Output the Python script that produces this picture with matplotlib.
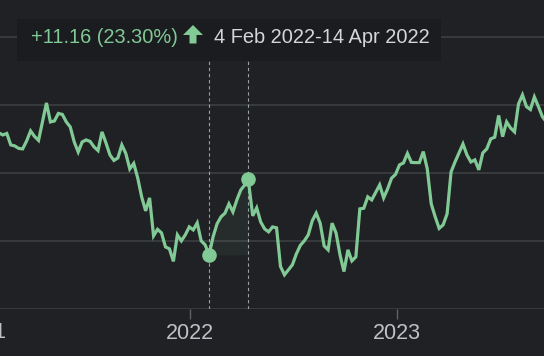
import numpy as np
import pandas as pd
import matplotlib
matplotlib.use("Agg")
import matplotlib.pyplot as plt
from matplotlib.patches import FancyBboxPatch, Polygon

# weekly closes
start_date = "2021-01-29"
prices = [65.84, 65.54, 65.76, 64.07, 63.93, 63.56, 63.49, 64.66, 66.13, 65.32,
          64.74, 67.46, 70.25, 67.46, 67.60, 68.71, 68.56, 67.46, 66.72, 64.51,
          63.04, 64.51, 64.81, 64.59, 63.78, 63.24, 65.99, 64.37, 62.60, 61.79,
          62.16, 64.07, 62.82, 60.54, 61.35, 59.22, 56.43, 54.37, 56.28, 50.69,
          51.65, 51.13, 49.07, 48.78, 46.94, 50.84, 49.96, 50.84, 52.01, 51.57,
          52.60, 49.96, 49.37, 47.90, 50.54, 52.46, 53.49, 54.03, 55.40, 54.22,
          55.99, 57.46, 58.19, 59.06, 53.63, 54.81, 52.75, 51.72, 51.28, 52.01,
          51.87, 46.18, 44.96, 45.69, 46.43, 48.04, 49.29, 49.96, 50.84, 52.90,
          54.03, 52.56, 49.22, 48.63, 52.56, 51.13, 47.90, 45.44, 48.63, 47.01,
          47.60, 54.66, 54.76, 56.43, 55.99, 57.09, 58.19, 56.28, 57.60, 59.18,
          59.74, 61.13, 61.43, 62.82, 61.50, 61.47, 61.47, 63.09, 60.54, 55.40,
          53.49, 51.79, 52.31, 53.93, 60.10, 61.57, 62.90, 64.22, 62.60, 61.57,
          61.87, 60.40, 62.90, 63.49, 64.96, 65.21, 68.41, 65.29, 67.46, 66.57,
          65.99, 70.10, 71.43, 69.71, 69.29, 71.13, 69.74, 68.26, 67.46]
sel_start = "2022-02-04"
sel_end = "2022-04-14"
change_text = "+11.16 (23.30%)"
range_text = "4 Feb 2022-14 Apr 2022"
year_ticks = ["2021-01-01", "2022-01-01", "2023-01-01"]
year_labels = ["2021", "2022", "2023"]

dates = pd.date_range(start_date, periods=len(prices), freq="7D")
dates = dates.where(dates != pd.Timestamp("2022-04-15"), pd.Timestamp(sel_end))
s = pd.Series(prices, index=dates)

bg = "#202124"
green = "#81c995"
grid = "#3c4043"
tick_col = "#bdc1c6"

plt.rcParams["font.family"] = ["Liberation Sans", "DejaVu Sans"]

fig = plt.figure(figsize=(5.44, 3.56), dpi=100, facecolor=bg)
ax = fig.add_axes([0, 0.1334, 1, 0.8666])
ax.set_facecolor(bg)

ax.plot(s.index, s.values, color=green, lw=2.3, solid_joinstyle="miter", zorder=3)

seg = s[sel_start:sel_end]
ax.fill_between(seg.index, seg.values, seg.iloc[0], color=green, alpha=0.07, lw=0, zorder=2)
ax.plot([seg.index[0], seg.index[-1]], [seg.iloc[0], seg.iloc[-1]], "o",
        color=green, ms=9.5, zorder=4)
for d in [seg.index[0], seg.index[-1]]:
    ax.plot([d, d], [40, 77.8], color="#9aa0a6", lw=0.8, ls=(0, (3, 2.5)), zorder=1)

ax.set_xlim(pd.Timestamp("2021-01-31"), pd.Timestamp("2023-09-18"))
ax.set_ylim(40, 85.4)
ax.set_yticks([40, 50, 60, 70, 80])
ax.yaxis.grid(True, color=grid, lw=1.2)
ax.set_axisbelow(True)
ax.tick_params(axis="y", left=False, labelleft=False)
for sp in ax.spines.values():
    sp.set_visible(False)

ax.set_xticks(pd.to_datetime(year_ticks[1:]))
ax.set_xticklabels(year_labels[1:])
ax.tick_params(axis="x", length=7.5, width=1, color="#5f6368", labelcolor=tick_col,
               labelsize=15.5, pad=3)
ax.text(pd.Timestamp(year_ticks[0]), -0.044, year_labels[0],
        transform=ax.get_xaxis_transform(), ha="center", va="top",
        fontsize=15.5, color=tick_col, clip_on=False)

# tooltip
W, H = 544, 356
box = FancyBboxPatch((17 / W, 1 - 61 / H), 424 / W, 42 / H,
                     boxstyle="square,pad=0", transform=fig.transFigure,
                     facecolor="#1b1c1f", edgecolor="none", zorder=5)
fig.patches.append(box)
fig.text(31 / W, 1 - 37.5 / H, change_text, color=green, fontsize=14.4,
         va="center", ha="left", zorder=6)
arrow_px = [(193, 25), (203, 35), (196.5, 35), (196.5, 43.5),
            (189.5, 43.5), (189.5, 35), (183, 35)]
fig.patches.append(Polygon([(x / W, 1 - y / H) for x, y in arrow_px], closed=True,
                           transform=fig.transFigure, facecolor=green,
                           edgecolor="none", zorder=6))
fig.text(214 / W, 1 - 37.5 / H, range_text, color="#d4d6da", fontsize=14.4,
         va="center", ha="left", zorder=6)

fig.savefig("out.png", dpi=100, facecolor=bg)
